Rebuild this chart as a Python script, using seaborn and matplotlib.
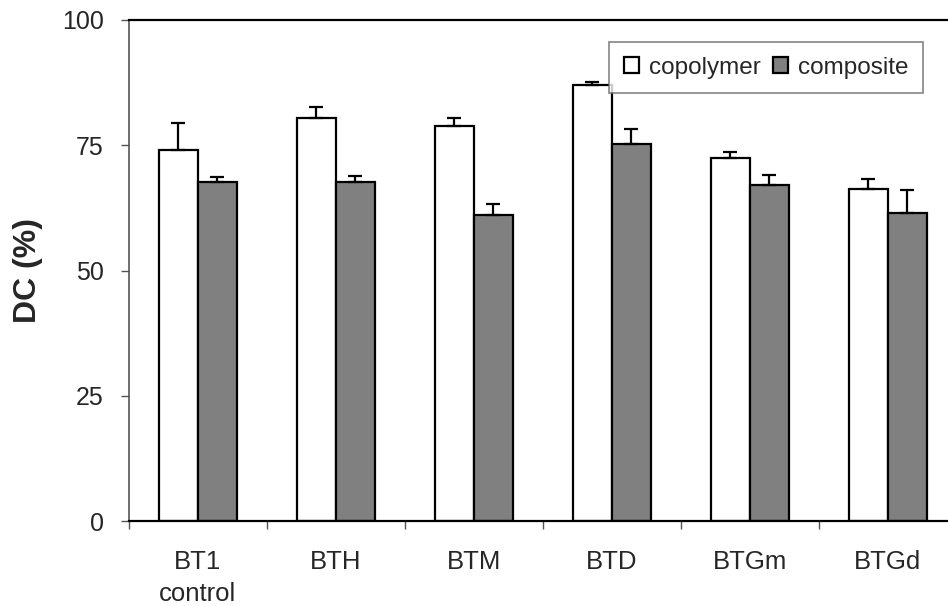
import numpy as np
import pandas as pd
import matplotlib
matplotlib.use("Agg")
import matplotlib.pyplot as plt
import seaborn as sns

# Data
groups = ["BT1\ncontrol", "BTH", "BTM", "BTD", "BTGm", "BTGd"]
copolymer = [74.1, 80.5, 78.8, 87.0, 72.4, 66.3]
copolymer_err = [5.4, 2.1, 1.6, 0.7, 1.3, 2.0]
composite = [67.7, 67.7, 61.0, 75.2, 67.0, 61.5]
composite_err = [0.9, 1.2, 2.2, 3.0, 2.0, 4.5]
series = ["copolymer", "composite"]

df = pd.DataFrame({
    "group": groups * 2,
    "type": [series[0]] * len(groups) + [series[1]] * len(groups),
    "DC": copolymer + composite,
})

sns.set_style("white")
plt.rcParams["font.family"] = ["Liberation Sans", "DejaVu Sans"]

fig = plt.figure(figsize=(9.48, 6.06), dpi=100)
ax = fig.add_axes([0.136, 0.140, 0.873, 0.827])

sns.barplot(data=df, x="group", y="DC", hue="type", order=groups,
            hue_order=series, palette=["white", "#808080"],
            edgecolor="black", linewidth=1.6, width=0.565, gap=0,
            errorbar=None, ax=ax)

# one-sided error bars on top of each bar
errs = copolymer_err + composite_err
vals = copolymer + composite
xs = [p.get_x() + p.get_width() / 2 for p in ax.patches[:len(vals)]]
ax.errorbar(xs, vals, yerr=[np.zeros(len(errs)), errs], fmt="none",
            ecolor="black", elinewidth=1.6, capsize=4.7, capthick=1.6)

ax.set_xlim(-0.5, len(groups) - 0.5)
ax.set_ylim(0, 100)
ax.set_yticks([0, 25, 50, 75, 100])
ax.tick_params(axis="y", labelsize=18, direction="out", length=6,
               width=1, color="#555555", left=True, pad=12)
ax.set_xticks(range(len(groups)))
ax.set_xticklabels(groups, fontsize=18.5, linespacing=1.4)
ax.set_xticks(np.arange(-0.5, len(groups)), minor=True)
ax.tick_params(axis="x", which="major", length=0, pad=21)
ax.tick_params(axis="x", which="minor", direction="out", length=6,
               width=1, color="#555555", bottom=True)

ax.set_xlabel("")
ax.set_ylabel("DC (%)", fontsize=23, fontweight="bold", labelpad=14)

for side in ["top", "bottom"]:
    ax.spines[side].set_color("black")
    ax.spines[side].set_linewidth(1.6)
ax.spines["left"].set_color("#555555")
ax.spines["left"].set_linewidth(1.2)
ax.spines["right"].set_visible(False)

leg = ax.legend(loc="upper right", bbox_to_anchor=(0.9594, 0.956), ncol=2,
                fontsize=17.5, frameon=True, fancybox=False, borderaxespad=0,
                handlelength=0.62, handleheight=0.62, handletextpad=0.41,
                columnspacing=0.5, borderpad=0.6)
leg.get_frame().set_edgecolor("#666666")
leg.get_frame().set_linewidth(1.2)

fig.savefig("out.png", dpi=100)
